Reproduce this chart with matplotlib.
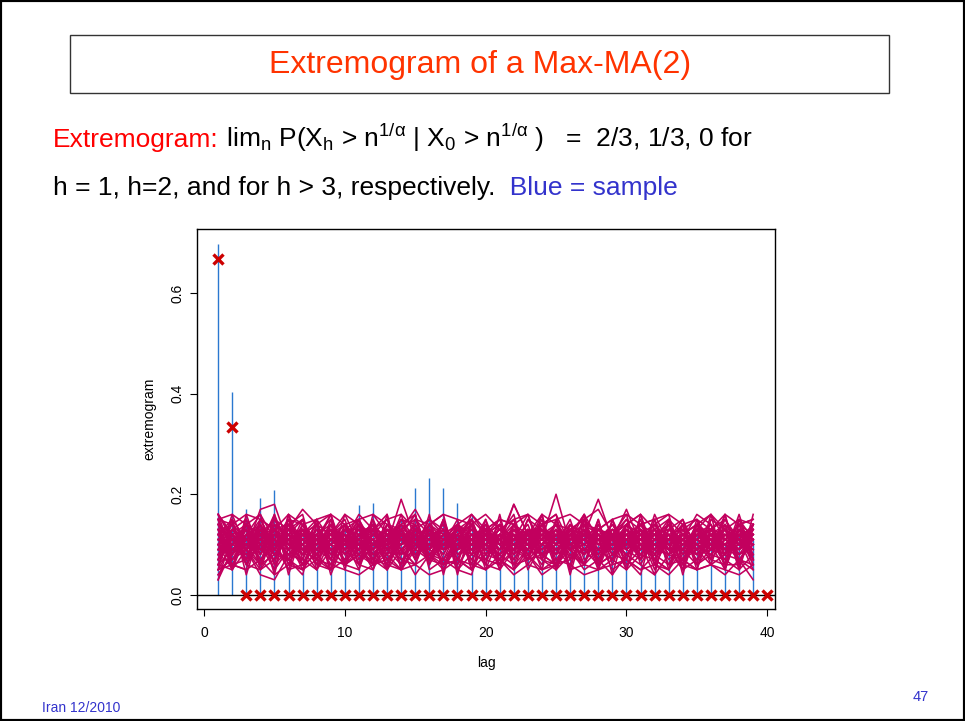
import matplotlib
matplotlib.use("Agg")
import matplotlib.pyplot as plt
import numpy as np
from matplotlib.patches import Rectangle

plt.rcParams['font.family'] = ['Liberation Sans', 'DejaVu Sans']
plt.rcParams['mathtext.fontset'] = 'custom'
plt.rcParams['mathtext.rm'] = 'Liberation Sans'
plt.rcParams['mathtext.it'] = 'Liberation Sans:italic'
plt.rcParams['mathtext.sf'] = 'Liberation Sans'

# lags and limiting extremogram of the max-MA(2)
lags = np.arange(1, 41)
theory = [2/3, 1/3] + [0.0] * 38

# sample extremogram, lags 1..39
sample = [0.697, 0.403, 0.17, 0.193, 0.209, 0.13, 0.12, 0.14, 0.11, 0.13,
          0.179, 0.183, 0.12, 0.15, 0.212, 0.232, 0.212, 0.182, 0.159, 0.143,
          0.12, 0.11, 0.13, 0.10, 0.12, 0.11, 0.13, 0.10, 0.12, 0.11,
          0.10, 0.12, 0.11, 0.10, 0.12, 0.11, 0.10, 0.12, 0.11]

# extremograms of permuted samples (in hundredths), lags 1..39
sims = [
    [9,14,7,12,5,15,8,11,6,13, 10,7,14,9,12,6,15,8,11,13, 7,12,9,15,6,10,13,8,11,7, 14,9,12,6,13,10,8,15,11],
    [12,6,11,15,9,7,13,10,16,8, 12,14,7,11,9,13,6,12,10,15, 8,11,14,7,12,9,6,13,10,12, 7,11,15,9,8,12,14,7,10],
    [5,10,13,8,14,11,6,12,9,10, 15,8,11,6,13,10,12,7,14,9, 11,6,13,10,8,14,9,12,7,11, 10,13,6,12,9,11,7,13,8],
    [16,11,9,13,10,12,15,7,11,14, 8,10,13,12,7,14,9,11,15,8, 12,10,7,13,11,9,15,12,8,10, 13,7,11,14,10,8,12,9,14],
    [8,13,10,6,12,9,14,11,7,12, 10,15,9,12,8,11,13,6,10,12, 9,14,11,8,13,7,12,10,14,9, 11,12,8,10,13,9,15,11,7],
    [11,8,15,10,7,13,9,12,14,6, 11,9,12,14,10,7,11,13,9,6, 14,8,11,12,10,15,7,9,13,11, 8,12,10,9,14,11,6,12,13],
    [14,12,8,11,15,10,7,13,10,12, 9,11,6,13,15,9,12,10,8,14, 11,13,10,6,12,9,11,14,8,12, 10,7,13,11,9,12,10,14,8],
    [6,9,12,14,8,11,10,6,13,9, 12,7,10,11,9,12,8,14,11,10, 6,12,9,11,14,10,8,11,12,6, 9,13,8,12,10,7,11,9,12],
    [10,15,11,9,13,6,12,14,8,11, 13,10,8,15,11,12,10,9,13,11, 10,7,12,9,11,13,10,8,12,14, 11,9,12,8,11,13,9,10,11],
    [13,7,10,12,9,14,11,8,12,15, 7,12,11,9,6,13,10,12,7,11, 13,9,10,14,7,11,12,9,10,8, 12,14,9,7,12,10,13,8,10],
    [7,11,9,13,11,8,12,9,10,7, 14,9,12,8,10,11,14,7,12,9, 8,13,11,10,9,12,6,14,9,11, 7,10,12,13,8,9,11,12,6],
    [15,9,12,7,10,11,8,15,11,9, 11,13,9,10,14,8,11,12,9,13, 10,8,15,11,9,6,13,10,11,15, 9,12,7,10,11,14,8,13,12],
    [9,12,6,10,16,9,13,10,12,8, 10,6,14,12,8,10,9,13,11,7, 12,11,9,12,14,10,11,7,13,10, 12,8,11,15,9,12,10,7,11],
    [12,10,14,9,7,12,10,13,8,11, 15,10,8,13,12,9,7,11,14,10, 9,12,11,8,10,13,12,9,7,12, 11,13,9,11,7,10,13,11,9],
    [4,8,11,12,10,14,9,7,11,13, 9,11,10,7,9,13,11,9,10,12, 14,10,8,12,11,9,10,13,11,8, 10,9,14,8,12,11,9,10,13],
    [11,13,9,11,13,7,11,10,14,10, 8,12,11,14,10,12,13,8,9,11, 12,9,13,11,8,12,14,10,9,13, 8,11,10,12,14,9,8,12,10],
    [8,10,13,7,11,10,12,14,9,6, 12,10,13,9,11,8,10,12,14,9, 7,11,10,13,12,8,9,11,10,12, 14,10,8,11,12,13,10,9,14],
    [13,11,7,14,9,12,6,10,12,11, 9,14,8,10,13,11,9,14,8,10, 13,12,7,10,14,11,13,6,12,9, 11,8,13,10,9,12,11,14,7],
    [10,7,12,10,13,9,11,12,7,14, 11,8,12,13,9,14,11,10,12,7, 11,14,10,9,12,13,8,11,14,10, 12,9,11,13,10,8,12,11,10],
    [6,12,10,11,8,13,15,9,11,10, 13,11,9,6,11,10,12,9,11,13, 9,10,12,14,8,10,11,12,9,11, 13,11,9,10,12,14,9,13,11],
    [12,14,11,8,12,10,9,11,13,12, 6,10,14,11,13,7,10,12,8,12, 10,13,8,12,10,11,14,9,12,10, 9,12,14,8,11,10,13,8,12],
    [9,8,14,12,10,11,13,8,10,9, 12,11,7,10,12,9,13,11,12,10, 12,8,11,10,13,9,10,12,8,13, 10,11,12,9,13,11,10,12,9],
    [14,10,9,11,12,8,10,13,11,12, 10,9,13,11,8,12,10,13,10,9, 11,12,10,13,9,12,11,10,13,12, 9,11,10,12,11,9,12,10,13],
    [7,13,11,9,14,12,8,11,9,10, 13,8,11,12,10,11,14,9,13,11, 8,10,13,9,11,14,9,12,11,10, 12,10,9,14,10,12,8,11,10],
    [11,9,10,13,8,11,12,9,14,11, 10,12,9,8,12,13,9,10,12,11, 13,10,9,11,12,10,12,11,9,10, 13,9,11,12,10,11,13,10,12],
    [16,12,13,10,11,15,11,12,10,13, 12,14,11,13,17,12,11,14,12,13, 11,18,12,13,11,12,14,12,13,11, 14,12,13,11,12,13,11,14,12],
    [5,7,9,6,8,7,5,9,7,6, 8,6,7,9,6,8,7,5,8,7, 6,9,7,8,6,7,9,6,8,7, 5,8,6,7,9,6,8,7,6],
    [10,11,8,12,10,9,13,11,10,12, 9,13,10,12,11,10,9,12,10,11, 12,11,10,9,12,10,13,11,10,9, 12,10,11,12,9,11,10,12,11],
    [13,9,12,11,10,13,9,12,11,8, 12,10,11,10,13,11,10,9,11,12, 10,11,13,12,9,11,10,12,10,11, 9,12,11,10,12,10,9,13,10],
    [8,12,10,9,13,10,11,9,12,10, 11,9,12,13,10,9,12,11,10,12, 9,13,11,10,11,9,12,10,11,13, 11,10,12,9,11,13,12,9,11],
    [12,10,11,13,9,12,10,14,9,11, 10,12,10,11,9,13,11,12,9,10, 11,9,12,11,13,10,9,11,12,10, 13,11,10,12,9,11,10,12,10],
    [9,11,13,10,12,9,12,10,11,13, 12,10,11,9,12,10,13,9,12,11, 10,12,9,13,10,12,11,9,10,12, 11,12,9,10,13,11,12,10,9],
    [11,12,9,11,10,12,11,9,13,10, 9,11,13,12,10,11,10,12,11,9, 12,10,11,12,11,10,12,13,9,11, 10,12,11,9,10,12,11,10,12],
    [7,10,12,9,11,8,10,12,9,11, 10,9,11,12,8,10,11,9,12,10, 9,11,10,8,12,10,9,11,10,12, 8,10,12,11,9,10,12,9,11],
    [14,11,10,12,13,11,12,10,12,14, 11,13,12,10,11,14,12,11,13,12, 14,11,12,13,10,12,11,13,12,10, 12,13,11,12,14,11,10,12,13],
    [10,13,11,10,9,14,10,11,12,9, 13,10,12,11,14,9,12,10,11,13, 10,12,11,14,10,9,12,11,13,10, 11,14,10,12,11,9,13,11,10],
    [3,9,8,10,12,9,10,8,11,9, 10,8,9,11,10,8,12,9,10,8, 11,9,10,8,9,12,10,9,11,8, 10,9,8,11,10,9,10,8,10],
    [12,8,11,14,10,9,12,11,8,12, 11,14,9,10,12,11,8,13,10,12, 9,11,12,10,14,9,11,8,12,11, 9,13,10,11,8,12,10,11,14],
    [9,12,14,11,8,12,13,10,12,11, 9,12,10,14,11,9,12,10,13,10, 12,9,11,12,10,13,8,12,10,14, 11,9,12,10,13,11,9,12,11],
    [11,10,9,12,11,10,8,12,10,13, 11,9,12,10,11,12,10,11,9,12, 11,12,10,11,9,10,12,11,10,12, 9,11,12,10,11,9,12,10,11],
    [10,11,9,17,18,10,12,9,11,10, 12,13,10,19,11,9,12,10,11,13, 10,18,12,11,20,10,12,19,11,17, 10,12,11,9,13,16,11,10,12],
    [6,5,9,4,3,8,7,5,9,6, 8,7,5,9,4,8,6,7,5,8, 7,5,8,4,6,9,5,7,4,8, 6,4,8,7,5,6,4,7,3],
    [15,16,14,12,15,13,17,14,12,16, 14,12,15,16,13,15,12,14,16,13, 15,14,12,16,14,13,15,17,12,14, 16,13,15,12,14,16,13,15,14],
    [8,6,7,10,5,9,6,8,5,7, 9,6,8,5,9,7,6,10,7,5, 8,6,9,7,5,8,6,9,7,5, 8,7,5,9,6,8,7,5,8],
    [5,15,6,14,4,16,7,15,5,14, 6,15,5,13,7,16,4,14,6,15, 5,14,7,16,5,13,6,15,4,14, 7,15,5,14,6,16,5,13,6],
    [15,5,14,6,16,4,13,7,15,5, 14,6,16,5,13,7,15,4,14,6, 16,5,13,7,15,4,14,6,15,5, 13,6,15,4,14,7,16,5,14],
    [6,13,15,5,7,14,16,6,5,13, 15,7,6,14,16,5,7,13,15,6, 5,14,16,7,6,13,15,5,7,14, 16,6,5,13,15,7,6,14,15],
    [14,6,5,15,13,7,4,14,16,6, 5,13,15,7,6,14,16,5,4,13, 15,6,7,14,16,5,6,13,15,7, 4,14,16,6,5,15,13,7,5],
    [4,8,14,16,11,5,6,12,15,9, 6,5,11,15,14,8,5,10,16,12, 7,5,9,14,16,10,6,5,12,15, 13,7,5,11,16,14,6,6,13],
    [16,12,6,5,9,15,14,7,5,11, 16,13,6,5,10,15,13,7,5,12, 15,14,8,5,6,12,16,11,5,7, 14,15,9,5,7,13,15,10,14],
    [7,16,9,5,13,14,6,11,16,6, 9,14,5,12,16,7,10,15,5,13, 6,11,16,8,6,14,12,5,15,9, 7,16,10,5,14,12,6,15,7],
    [13,5,12,16,6,9,15,5,11,14, 6,13,16,5,10,14,7,6,15,12, 5,9,15,13,5,11,16,6,8,14, 12,5,13,15,6,9,14,5,16],
    [5,6,5,7,4,6,5,7,6,5, 4,6,7,5,6,4,5,7,6,5, 7,4,6,5,7,6,4,5,6,7, 5,6,4,7,5,6,5,4,6],
    [15,14,16,15,13,16,14,15,16,14, 15,16,14,13,15,14,16,15,14,16, 13,15,16,14,15,16,14,13,15,16, 14,15,16,14,15,13,16,14,15],
    [10,5,16,8,14,6,12,15,4,11, 14,6,9,16,7,13,5,12,15,8, 11,15,5,10,14,7,16,6,12,9, 15,6,11,14,5,13,8,16,7],
    [12,15,4,13,6,16,9,5,14,11, 5,16,12,6,14,9,15,5,11,14, 6,13,10,16,5,12,8,15,6,13, 10,4,15,7,13,6,14,11,5],
    [3,12,7,15,10,5,14,8,13,6, 15,9,5,12,16,6,11,14,5,10, 14,7,12,5,15,9,6,13,11,5, 16,8,12,6,15,10,5,13,7],
    [16,8,13,6,15,11,5,14,7,16, 10,5,13,8,15,12,6,9,14,5, 12,16,6,10,13,5,15,7,12,16, 6,11,14,5,12,9,16,6,14],
]

xticks = [0, 10, 20, 30, 40]
yticks = [0.0, 0.2, 0.4, 0.6]

fig = plt.figure(figsize=(9.65, 7.21), dpi=100)

# slide frame and title box
fig.patches.append(Rectangle((0, 0), 1, 1, transform=fig.transFigure,
                             fill=False, ec='black', lw=3))
fig.patches.append(Rectangle((70/965, 1 - 93/721), 819/965, 58/721,
                             transform=fig.transFigure, fill=False,
                             ec='#333333', lw=1))
fig.text(0.497, 1 - 65/721, 'Extremogram of a Max-MA(2)', color='#ff3300',
         fontsize=23, ha='center', va='center')

renderer = fig.canvas.get_renderer()


def put_line(y, pieces, x0, size):
    # write coloured pieces one after another on a common baseline
    x = x0
    for txt, col in pieces:
        t = fig.text(x, y, txt, color=col, fontsize=size, va='baseline')
        w = t.get_window_extent(renderer).width
        x += w / fig.bbox.width


sz = 19
put_line(1 - 147/721, [
    ('Extremogram:', '#ff0000'),
    (r' lim$_\mathregular{n}$ P(X$_\mathregular{h}$ > n$^\mathregular{1/\alpha}$ | '
     r'X$_\mathregular{0}$ > n$^\mathregular{1/\alpha}$ )   =  2/3, 1/3, 0 for', 'black'),
], 53/965, sz)
put_line(1 - 195/721, [
    ('h = 1, h=2, and for h > 3, respectively.', 'black'),
    ('  Blue = sample', '#3333cc'),
], 53/965, sz)

fig.text(42/965, 1 - 708/721, 'Iran 12/2010', color='#3333cc', fontsize=10,
         va='center')
fig.text(921/965, 1 - 697/721, '47', color='#3333cc', fontsize=10.5,
         ha='center', va='center')

ax = fig.add_axes([197/965, 1 - 609/721, 578/965, 380/721])

ax.vlines(lags[:len(sample)], 0, sample, color='#2a78d0', lw=1.0, zorder=2)
for row in sims:
    ax.plot(np.arange(1, len(row) + 1), np.array(row) / 100,
            color='#c2005e', lw=1.15, zorder=3)
ax.axhline(0, color='black', lw=1.0, zorder=4)
ax.plot(lags, theory, 'x', color='#cc0000', ms=7.5, mew=2.4, zorder=5)

ax.set_xlim(-0.5, 40.55)
ax.set_ylim(-0.028, 0.727)
ax.set_xticks(xticks)
ax.set_yticks(yticks)
ax.set_yticklabels(['%.1f' % v for v in yticks])
ax.tick_params(direction='out', length=5, width=0.8, labelsize=10)
ax.tick_params(axis='x', pad=7)
ax.tick_params(axis='y', labelrotation=90, pad=4)
for lab in ax.get_yticklabels():
    lab.set_va('center')
ax.set_xlabel('lag', fontsize=10, labelpad=12)
ax.set_ylabel('extremogram', fontsize=10, labelpad=10)
for s in ax.spines.values():
    s.set_linewidth(1.0)

fig.savefig('out.png', dpi=100)
